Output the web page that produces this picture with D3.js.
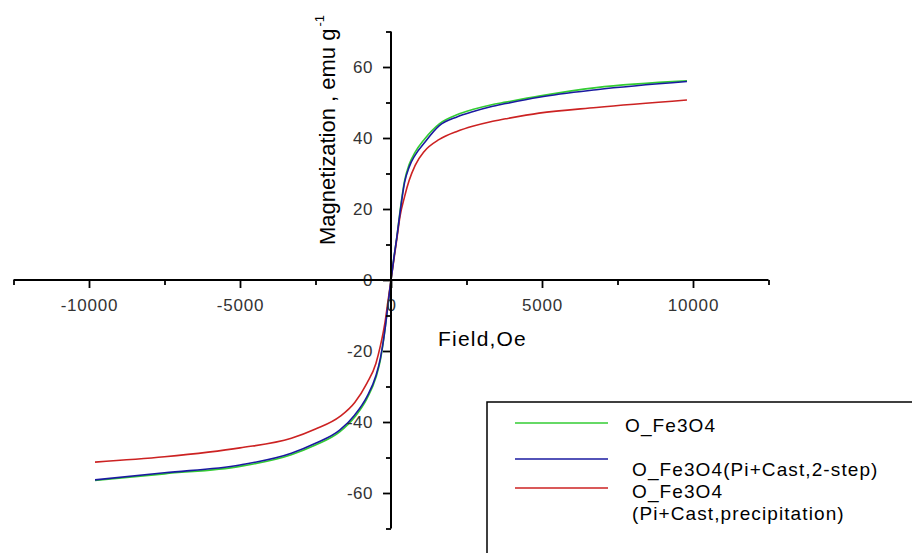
<!DOCTYPE html>
<html><head><meta charset="utf-8">
<script src="https://cdn.jsdelivr.net/npm/d3@7"></script>
<style>body{margin:0;background:#fff}svg{display:block}</style>
</head><body>
<svg id="c" width="912" height="553"></svg>
<script>
// Field (Oe)
const field = [-9800,-7500,-5000,-3300,-2500,-1700,-1200,-800,-500,-350,-200,-100,0,100,200,300,450,600,800,1100,1600,2200,2700,3300,3800,4900,6800,9800];
// Magnetization (emu/g)
const mGreen = [-56.5,-54.6,-52.5,-49.2,-46.5,-42.8,-38.6,-33.5,-27.5,-22.5,-14,-7,0,6.5,12.5,19.5,28,32.5,36,39.6,44,46.6,48,49.3,50.1,51.8,54.2,56.1];
const mBlue  = [-56.3,-54.3,-52.1,-48.8,-46.0,-42.3,-38.0,-32.9,-27.0,-22.0,-14,-7,0,6.5,12.5,19,27.5,31.8,35.2,38.6,43.5,46,47.4,48.8,49.7,51.5,53.6,55.9];
const mRed   = [-51.3,-49.8,-47.3,-44.6,-42.0,-38.5,-34.5,-29.1,-23.5,-18.5,-12,-6,0,6,12,18,23.5,28,32.3,36.2,39.6,41.9,43.3,44.6,45.4,47.0,48.6,50.7];
const seriesNames = ["O_Fe3O4","O_Fe3O4(Pi+Cast,2-step)","O_Fe3O4\n(Pi+Cast,precipitation)"];
const seriesColors = ["#33cc33","#1a1aa0","#cc2222"];
const seriesValues = [mGreen, mBlue, mRed];
const xMajor = [-10000,-5000,0,5000,10000];
const xMinor = [-12500,-7500,-2500,2500,7500,12500];
const yMajor = [-60,-40,-20,0,20,40,60];
const yMinor = [-70,-50,-30,-10,10,30,50,70];

const svg = d3.select("#c");
const x = d3.scaleLinear().domain([-12500,12500]).range([13.5,768.5]);
const y = d3.scaleLinear().domain([-70,70]).range([528.5,31.5]);
const x0 = x(0), y0 = y(0);
const font = "Arial, 'Liberation Sans', sans-serif";
const fmt = d => String(d);

// curves
const line = d3.line().x((d,i)=>x(field[i])).y(d=>y(d)).curve(d3.curveMonotoneX);
[0,2,1].forEach(k=>{
  svg.append("path").datum(seriesValues[k]).attr("d",line)
    .attr("fill","none").attr("stroke",seriesColors[k]).attr("stroke-width",1.6);
});

// axes
function styleAxis(g){
  g.select(".domain").remove();
  g.selectAll(".tick line").attr("stroke","#000").attr("stroke-width",1.8);
  g.selectAll("text").attr("font-family",font).attr("font-size",17).attr("fill","#333");
}
const gxMaj = svg.append("g").attr("transform",`translate(0,${y0})`)
  .call(d3.axisBottom(x).tickValues(xMajor).tickSize(8).tickPadding(11).tickFormat(fmt));
styleAxis(gxMaj);
gxMaj.selectAll("text").attr("letter-spacing","0.8px");
const gxMin = svg.append("g").attr("transform",`translate(0,${y0})`)
  .call(d3.axisBottom(x).tickValues(xMinor).tickSize(5).tickFormat(""));
styleAxis(gxMin);
const gyMaj = svg.append("g").attr("transform",`translate(${x0},0)`)
  .call(d3.axisLeft(y).tickValues(yMajor).tickSize(8).tickPadding(10).tickFormat(fmt));
styleAxis(gyMaj);
gyMaj.selectAll("text").attr("letter-spacing","0.5px").attr("dy","0.3em");
const gyMin = svg.append("g").attr("transform",`translate(${x0},0)`)
  .call(d3.axisLeft(y).tickValues(yMinor).tickSize(5).tickFormat(""));
styleAxis(gyMin);
// axis lines
svg.append("line").attr("x1",x(-12500)).attr("x2",x(12500)).attr("y1",y0).attr("y2",y0)
  .attr("stroke","#000").attr("stroke-width",2);
svg.append("line").attr("x1",x0).attr("x2",x0).attr("y1",y(-70)).attr("y2",y(70))
  .attr("stroke","#000").attr("stroke-width",2);

// axis titles
svg.append("text").attr("x",438).attr("y",346).attr("font-family",font).attr("font-size",21)
  .attr("letter-spacing","1.2px").attr("fill","#000").text("Field,Oe");
const yt = svg.append("text").attr("transform","translate(335,245) rotate(-90)")
  .attr("font-family",font).attr("font-size",22).attr("fill","#000");
yt.append("tspan").text("Magnetization , emu g");
yt.append("tspan").attr("dy",-11).attr("dx",2).attr("font-size",13).text("-1");

// legend
svg.append("rect").attr("x",487).attr("y",402).attr("width",460).attr("height",200)
  .attr("fill","#fff").attr("stroke","#000").attr("stroke-width",1.5);
const legLineY = [423,459,488];
const legTextX = [625,632,632];
const legTextY = [[432],[476],[498,520]];
seriesNames.forEach((name,k)=>{
  svg.append("line").attr("x1",515).attr("x2",608).attr("y1",legLineY[k]).attr("y2",legLineY[k])
    .attr("stroke",seriesColors[k]).attr("stroke-width",1.3);
  name.split("\n").forEach((part,j)=>{
    svg.append("text").attr("x",legTextX[k]).attr("y",legTextY[k][j])
      .attr("font-family",font).attr("font-size",19).attr("letter-spacing","1.1px")
      .attr("fill","#000").text(part);
  });
});
</script>
</body></html>
